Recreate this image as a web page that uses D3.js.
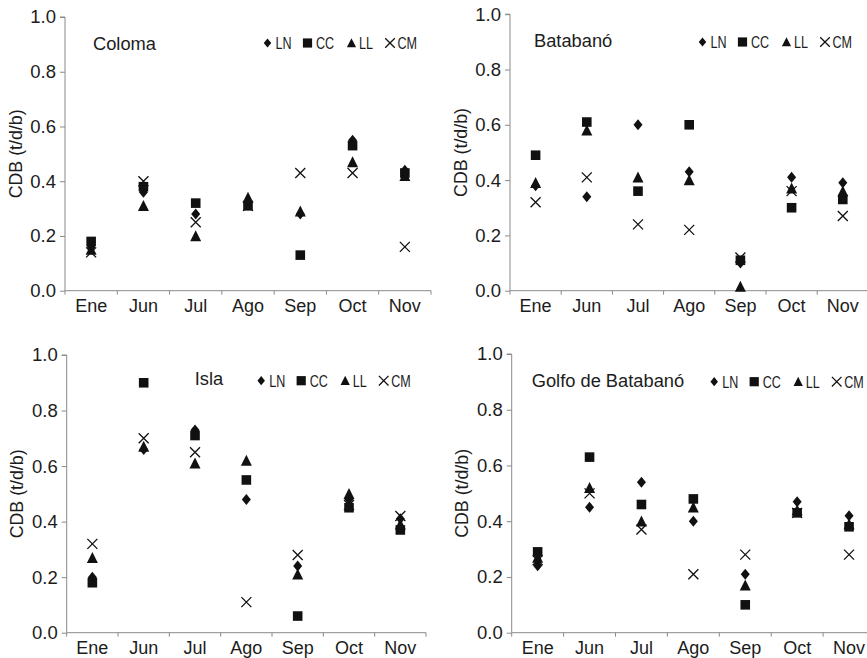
<!DOCTYPE html>
<html><head><meta charset="utf-8">
<script src="https://cdn.jsdelivr.net/npm/d3@7"></script>
<style>body{margin:0;background:#fff}svg{display:block}</style>
</head><body>
<svg id="c" width="867" height="658"></svg>
<script>
const months = ["Ene","Jun","Jul","Ago","Sep","Oct","Nov"];
const seriesNames = ["LN","CC","LL","CM"];
const yTicks = [0,0.2,0.4,0.6,0.8,1.0];
const panelTitles = ["Coloma","Batabanó","Isla","Golfo de Batabanó"];
const yTitle = "CDB (t/d/b)";

// values [month] for each series per site
const colomaLN = [0.16,0.36,0.28,0.32,0.28,0.55,0.44];
const colomaCC = [0.18,0.38,0.32,0.31,0.13,0.53,0.43];
const colomaLL = [0.15,0.31,0.20,0.34,0.29,0.47,0.42];
const colomaCM = [0.14,0.40,0.25,0.31,0.43,0.43,0.16];

const batabanoLN = [0.38,0.34,0.60,0.43,0.10,0.41,0.39];
const batabanoCC = [0.49,0.61,0.36,0.60,0.11,0.30,0.33];
const batabanoLL = [0.39,0.58,0.41,0.40,0.015,0.37,0.36];
const batabanoCM = [0.32,0.41,0.24,0.22,0.12,0.36,0.27];

const islaLN = [0.20,0.66,0.73,0.48,0.24,0.48,0.41];
const islaCC = [0.18,0.90,0.71,0.55,0.06,0.45,0.37];
const islaLL = [0.27,0.67,0.61,0.62,0.21,0.50,0.39];
const islaCM = [0.32,0.70,0.65,0.11,0.28,0.46,0.42];

const golfoLN = [0.24,0.45,0.54,0.40,0.21,0.47,0.42];
const golfoCC = [0.29,0.63,0.46,0.48,0.10,0.43,0.38];
const golfoLL = [0.27,0.52,0.40,0.45,0.17,0.44,0.39];
const golfoCM = [0.26,0.50,0.37,0.21,0.28,0.43,0.28];

const siteData = [
  [colomaLN,colomaCC,colomaLL,colomaCM],
  [batabanoLN,batabanoCC,batabanoLL,batabanoCM],
  [islaLN,islaCC,islaLL,islaCM],
  [golfoLN,golfoCC,golfoLL,golfoCM]
];

// layout
const panels = [
  {x0:65,   x1:431,   yTop:17,   yBot:290.7, titleX:28,  titleY:50,  legX:198, legY:43},
  {x0:510,  x1:868.4, yTop:14.2, yBot:290.7, titleX:24,  titleY:47,  legX:188, legY:42},
  {x0:66.7, x1:426,   yTop:355,  yBot:632.7, titleX:128, titleY:385, legX:190, legY:380.7},
  {x0:511.7,x1:875,   yTop:354,  yBot:632.7, titleX:20,  titleY:387, legX:198, legY:381.7}
];

const ink = "#111";
const axisCol = "#8a8a8a";
const txtCol = "#1c1c1c";
const font = "'Liberation Sans', Arial, Helvetica, sans-serif";

const symDiamond = {draw(p,s){const w=s*0.82,h=s; p.moveTo(0,-h);p.lineTo(w,0);p.lineTo(0,h);p.lineTo(-w,0);p.closePath();}};
const symSquare = {draw(p,s){p.rect(-s,-s,2*s,2*s);}};
const symTriangle = {draw(p,s){p.moveTo(0,-s*1.05);p.lineTo(s,s*0.95);p.lineTo(-s,s*0.95);p.closePath();}};
const symX = {draw(p,s){p.moveTo(-s,-s);p.lineTo(s,s);p.moveTo(s,-s);p.lineTo(-s,s);}};
const symbols = [symDiamond,symSquare,symTriangle,symX];

const svg = d3.select("#c");

panels.forEach((P,pi)=>{
  const g = svg.append("g");
  const x = d3.scaleBand().domain(months).range([P.x0,P.x1]).padding(0);
  const y = d3.scaleLinear().domain([0,1]).range([P.yBot,P.yTop]);

  // y axis
  const ya = g.append("g").attr("transform",`translate(${P.x0},0)`)
    .call(d3.axisLeft(y).tickValues(yTicks).tickFormat(d3.format(".1f")).tickSize(5).tickPadding(4));
  ya.select(".domain").attr("stroke",axisCol).attr("d",`M-5,${y(1)}H0V${P.yBot+4}`);
  ya.selectAll(".tick line").attr("stroke",axisCol);
  ya.selectAll(".tick text").attr("fill",txtCol).style("font-family",font).style("font-size","18.5px");

  // x axis: line + boundary ticks + centered labels
  const xa = g.append("g").attr("transform",`translate(0,${P.yBot})`)
    .call(d3.axisBottom(x).tickSize(0).tickPadding(8.5));
  xa.select(".domain").attr("stroke",axisCol).attr("d",`M${P.x0},0H${P.x1}`);
  xa.selectAll(".tick text").attr("fill",txtCol).style("font-family",font).style("font-size","18px");
  const bounds = months.map(m=>x(m)+x.bandwidth());
  g.append("g").selectAll("line").data(bounds).join("line")
    .attr("x1",d=>d).attr("x2",d=>d).attr("y1",P.yBot).attr("y2",P.yBot+4)
    .attr("stroke",axisCol);

  // y title
  g.append("text").attr("transform",`translate(${P.x0-48},${(P.yTop+P.yBot)/2}) rotate(-90)`)
    .attr("text-anchor","middle").attr("dominant-baseline","middle")
    .attr("fill",txtCol).style("font-family",font).style("font-size","17.8px").text(yTitle);

  // panel title
  g.append("text").attr("x",P.x0+P.titleX).attr("y",P.titleY)
    .attr("fill",txtCol).style("font-family",font).style("font-size","18.3px").text(panelTitles[pi]);

  // legend
  const legOff = [[4.5,12.5],[44.5,53],[88.5,96],[127,134.5]];
  const lg = g.append("g").attr("transform",`translate(${P.x0+P.legX},${P.legY})`);
  seriesNames.forEach((s,si)=>{
    const sym = d3.symbol().type(symbols[si]).size(si===3?4.8:4.6);
    lg.append("path").attr("transform",`translate(${legOff[si][0]},0)`).attr("d",sym())
      .attr("fill",si===3?"none":ink).attr("stroke",ink).attr("stroke-width",si===3?1.3:0);
    lg.append("text").attr("transform",`translate(${legOff[si][1]},6.2) scale(0.74,1)`)
      .attr("fill",txtCol).style("font-family",font).style("font-size","17px").text(s);
  });

  // points
  siteData[pi].forEach((vals,si)=>{
    const sym = d3.symbol().type(symbols[si]).size(si===1?4.8:(si===3?5:5.5));
    g.append("g").selectAll("path").data(vals).join("path")
      .attr("transform",(d,i)=>`translate(${x(months[i])+x.bandwidth()/2},${y(d)})`)
      .attr("d",sym())
      .attr("fill",si===3?"none":ink).attr("stroke",ink).attr("stroke-width",si===3?1.3:0);
  });
});
</script>
</body></html>
